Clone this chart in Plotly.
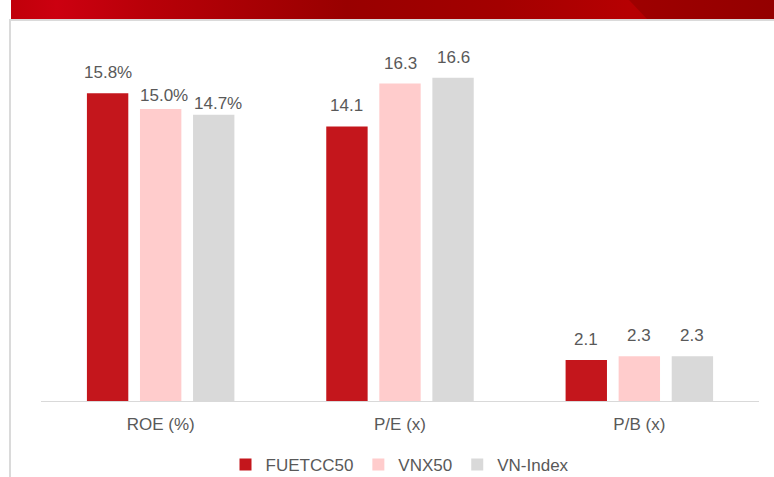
import base64
import plotly.graph_objects as go

categories = ["ROE (%)", "P/E (x)", "P/B (x)"]
series_names = ["FUETCC50", "VNX50", "VN-Index"]
fuetcc50 = [15.8, 14.1, 2.1]
vnx50 = [15.0, 16.3, 2.3]
vnindex = [14.7, 16.6, 2.3]
label_fmt = ["{:.1f}%", "{:.1f}", "{:.1f}"]

colors = ["#C4161C", "#FFCCCC", "#D9D9D9"]
values = [fuetcc50, vnx50, vnindex]

# label nudges (pixels) per series / category, as placed in the original
label_dy = [[9, 9, 9], [2, 9, 9], [0, 9, 9]]
label_dx = [[0, 0, 0], [3, 0, 0], [4, 0, 0]]

FONT = "Liberation Sans, Arial"
FS = 17
TXT = "#595959"

W, H = 774, 477
L, R, T, B = 41, 15, 31, 76
pw, ph = W - L - R, H - T - B
BARGAP, GROUPGAP = 0.335, 0.22

xs = list(range(len(categories)))
fig = go.Figure()
for name, vals, col in zip(series_names, values, colors):
    fig.add_trace(go.Bar(
        x=xs, y=vals, name=name,
        marker=dict(color=col, line=dict(width=0)),
        hoverinfo="name+y",
    ))

# value labels above each bar, positioned using the group slot width from bargap
n = len(series_names)
slot = (1 - BARGAP) / n
annotations = []
for k, vals in enumerate(values):
    for i, v in enumerate(vals):
        annotations.append(dict(
            x=xs[i] + (k - (n - 1) / 2) * slot, y=v, xref="x", yref="y",
            text=label_fmt[i].format(v), showarrow=False,
            yanchor="bottom", yshift=label_dy[k][i], xshift=label_dx[k][i],
            font=dict(family=FONT, size=FS, color=TXT),
        ))

def px_x(p):
    return (p - L) / pw

def px_y(p):
    return (H - B - p) / ph

svg = '''<svg xmlns="http://www.w3.org/2000/svg" width="763" height="19" viewBox="0 0 763 19" preserveAspectRatio="none">
<defs>
<linearGradient id="g" x1="0" y1="0" x2="1" y2="0">
<stop offset="0" stop-color="#c0000a"/><stop offset="0.06" stop-color="#cc0010"/>
<stop offset="0.18" stop-color="#b80008"/><stop offset="0.31" stop-color="#a80004"/>
<stop offset="0.44" stop-color="#990000"/><stop offset="0.64" stop-color="#a30000"/>
<stop offset="0.81" stop-color="#b60002"/><stop offset="1" stop-color="#b00000"/>
</linearGradient>
<linearGradient id="g2" x1="0" y1="0" x2="1" y2="0">
<stop offset="0" stop-color="#9e0000"/><stop offset="1" stop-color="#940000"/>
</linearGradient>
</defs>
<rect width="763" height="19" fill="url(#g)"/>
<polygon points="618,0 763,0 763,19 636,19" fill="url(#g2)"/>
</svg>'''
src = "data:image/svg+xml;base64," + base64.b64encode(svg.encode()).decode()

fig.add_layout_image(dict(
    source=src, xref="paper", yref="paper",
    x=px_x(11), y=px_y(0), sizex=px_x(774) - px_x(11), sizey=px_y(0) - px_y(19),
    xanchor="left", yanchor="top", sizing="stretch", layer="above",
))

shapes = [
    dict(type="line", xref="paper", yref="paper", x0=px_x(9), x1=px_x(774),
         y0=px_y(20), y1=px_y(20), line=dict(color="#DADADA", width=2)),
    dict(type="line", xref="paper", yref="paper", x0=px_x(10), x1=px_x(10),
         y0=px_y(20), y1=px_y(477), line=dict(color="#DADADA", width=2)),
]

fig.update_layout(
    width=W, height=H,
    margin=dict(l=L, r=R, t=T, b=B, autoexpand=False),
    paper_bgcolor="white", plot_bgcolor="white",
    barmode="group", bargap=BARGAP, bargroupgap=GROUPGAP,
    shapes=shapes, annotations=annotations,
    font=dict(family=FONT, size=FS, color=TXT),
    xaxis=dict(showline=True, linecolor="#D9D9D9", linewidth=1, ticks="",
               tickvals=xs, ticktext=categories, range=[-0.5, len(xs) - 0.5],
               tickfont=dict(family=FONT, size=FS, color=TXT), showgrid=False,
               zeroline=False, ticklabelstandoff=8),
    yaxis=dict(range=[0, 19], visible=False, showgrid=False, zeroline=False),
    legend=dict(orientation="h", x=0.5, xanchor="center", xref="paper",
                yref="container", y=1 - 465 / H, yanchor="middle",
                font=dict(family=FONT, size=FS, color=TXT), itemwidth=30,
                traceorder="normal"),
    showlegend=True,
)

fig.write_html("out.html")
